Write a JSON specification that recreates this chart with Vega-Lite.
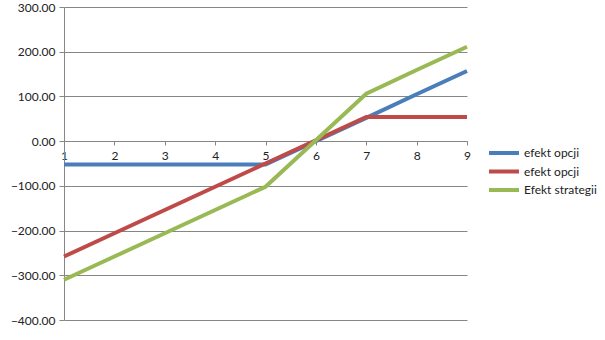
{
  "$schema": "https://vega.github.io/schema/vega-lite/v6.json",
  "width": 403,
  "height": 313,
  "autosize": {"type": "none"},
  "padding": {"left": 64, "top": 7, "right": 138, "bottom": 20},
  "background": "white",
  "config": {
    "view": {"stroke": null},
    "font": "Lato",
    "axis": {"labelFont": "Lato", "labelFontSize": 12, "labelColor": "#222222"},
    "legend": {"labelFont": "Lato", "labelFontSize": 12, "labelColor": "#222222"}
  },
  "data": {
    "values": [
      {"x": 1, "series": "efekt opcji", "v": -52},
      {"x": 2, "series": "efekt opcji", "v": -52},
      {"x": 3, "series": "efekt opcji", "v": -52},
      {"x": 4, "series": "efekt opcji", "v": -52},
      {"x": 5, "series": "efekt opcji", "v": -52},
      {"x": 6, "series": "efekt opcji", "v": 0},
      {"x": 7, "series": "efekt opcji", "v": 52},
      {"x": 8, "series": "efekt opcji", "v": 105},
      {"x": 9, "series": "efekt opcji", "v": 157},
      {"x": 1, "series": "efekt opcji ", "v": -258},
      {"x": 2, "series": "efekt opcji ", "v": -206},
      {"x": 3, "series": "efekt opcji ", "v": -154},
      {"x": 4, "series": "efekt opcji ", "v": -102},
      {"x": 5, "series": "efekt opcji ", "v": -50},
      {"x": 6, "series": "efekt opcji ", "v": 2},
      {"x": 7, "series": "efekt opcji ", "v": 54},
      {"x": 8, "series": "efekt opcji ", "v": 54},
      {"x": 9, "series": "efekt opcji ", "v": 54},
      {"x": 1, "series": "Efekt strategii", "v": -310},
      {"x": 2, "series": "Efekt strategii", "v": -258},
      {"x": 3, "series": "Efekt strategii", "v": -206},
      {"x": 4, "series": "Efekt strategii", "v": -154},
      {"x": 5, "series": "Efekt strategii", "v": -102},
      {"x": 6, "series": "Efekt strategii", "v": 2},
      {"x": 7, "series": "Efekt strategii", "v": 106},
      {"x": 8, "series": "Efekt strategii", "v": 159},
      {"x": 9, "series": "Efekt strategii", "v": 211}
    ]
  },
  "mark": {"type": "line", "strokeWidth": 4, "strokeCap": "butt"},
  "encoding": {
    "x": {
      "field": "x",
      "type": "quantitative",
      "scale": {"domain": [1, 9], "nice": false, "zero": false},
      "axis": {
        "title": null,
        "orient": "bottom",
        "offset": -179,
        "values": [1, 2, 3, 4, 5, 6, 7, 8, 9],
        "format": "d",
        "grid": false,
        "domainColor": "#868686",
        "tickColor": "#868686",
        "tickSize": 4,
        "labelPadding": 5,
        "labelFlush": false
      }
    },
    "y": {
      "field": "v",
      "type": "quantitative",
      "scale": {"domain": [-400, 300], "nice": false},
      "axis": {
        "title": null,
        "values": [-400, -300, -200, -100, 0, 100, 200, 300],
        "format": ".2f",
        "grid": true,
        "gridColor": "#868686",
        "domainColor": "#868686",
        "tickColor": "#868686",
        "tickSize": 5,
        "labelPadding": 4
      }
    },
    "color": {
      "field": "series",
      "type": "nominal",
      "sort": null,
      "scale": {
        "domain": ["efekt opcji", "efekt opcji ", "Efekt strategii"],
        "range": ["#4A7EBB", "#BE4B48", "#98B954"]
      },
      "legend": {
        "title": null,
        "orient": "none",
        "legendX": 433,
        "legendY": 139,
        "symbolType": "M-3,0H3",
        "symbolSize": 100,
        "symbolStrokeWidth": 4,
        "labelOffset": 13,
        "rowPadding": 2.5
      }
    }
  }
}
